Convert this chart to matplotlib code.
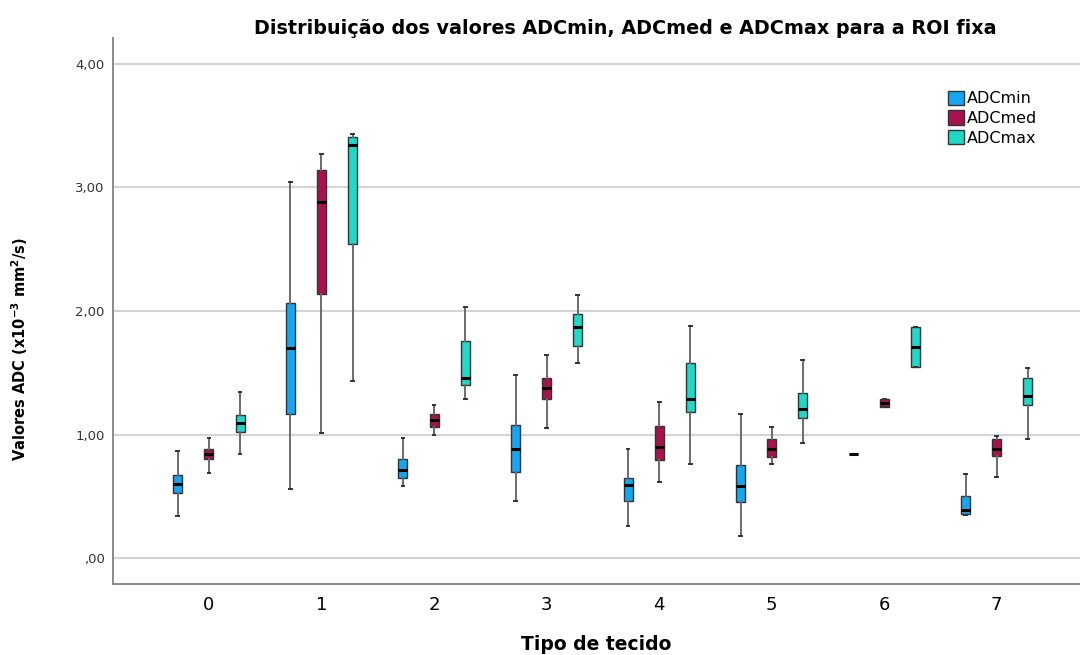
#!/usr/bin/env python3
"""Boxplots of ADCmin / ADCmed / ADCmax per tissue type (fixed ROI)."""

import matplotlib

matplotlib.use("Agg")
import matplotlib.pyplot as plt
import numpy as np
from matplotlib.patches import Patch

# Tissue type categories
categories = ["0", "1", "2", "3", "4", "5", "6", "7"]

# Five-number summaries: whisker low, Q1, median, Q3, whisker high
adcmin_lo = [0.34, 0.56, 0.58, 0.46, 0.26, 0.18, 0.84, 0.35]
adcmin_q1 = [0.53, 1.17, 0.65, 0.70, 0.46, 0.45, 0.84, 0.36]
adcmin_med = [0.60, 1.70, 0.71, 0.885, 0.59, 0.585, 0.84, 0.39]
adcmin_q3 = [0.67, 2.065, 0.80, 1.075, 0.65, 0.755, 0.84, 0.50]
adcmin_hi = [0.865, 3.045, 0.97, 1.48, 0.88, 1.17, 0.84, 0.68]

adcmed_lo = [0.69, 1.01, 1.00, 1.05, 0.615, 0.76, 1.225, 0.655]
adcmed_q1 = [0.80, 2.135, 1.06, 1.29, 0.79, 0.82, 1.225, 0.83]
adcmed_med = [0.84, 2.88, 1.12, 1.38, 0.895, 0.885, 1.255, 0.885]
adcmed_q3 = [0.88, 3.145, 1.17, 1.46, 1.07, 0.96, 1.285, 0.96]
adcmed_hi = [0.97, 3.27, 1.24, 1.645, 1.265, 1.06, 1.285, 0.99]

adcmax_lo = [0.845, 1.435, 1.285, 1.575, 0.76, 0.935, 1.55, 0.96]
adcmax_q1 = [1.02, 2.54, 1.40, 1.72, 1.18, 1.13, 1.55, 1.235]
adcmax_med = [1.09, 3.34, 1.46, 1.87, 1.285, 1.205, 1.71, 1.315]
adcmax_q3 = [1.16, 3.41, 1.755, 1.975, 1.575, 1.34, 1.87, 1.46]
adcmax_hi = [1.345, 3.435, 2.035, 2.13, 1.875, 1.60, 1.87, 1.54]

series_names = ["ADCmin", "ADCmed", "ADCmax"]
series_colors = ["#14A6F0", "#A8134F", "#1FD8C8"]

y_ticks = [0, 1, 2, 3, 4]
y_tick_labels = [",00", "1,00", "2,00", "3,00", "4,00"]


def build_stats(lo, q1, med, q3, hi):
    return [
        dict(whislo=a, q1=b, med=c, q3=d, whishi=e, fliers=[])
        for a, b, c, d, e in zip(lo, q1, med, q3, hi)
    ]


def main() -> None:
    fig = plt.figure(figsize=(10.8, 6.55), dpi=100)
    ax = fig.add_axes([0.1046, 0.1084, 0.8954, 0.8336])

    all_stats = [
        build_stats(adcmin_lo, adcmin_q1, adcmin_med, adcmin_q3, adcmin_hi),
        build_stats(adcmed_lo, adcmed_q1, adcmed_med, adcmed_q3, adcmed_hi),
        build_stats(adcmax_lo, adcmax_q1, adcmax_med, adcmax_q3, adcmax_hi),
    ]

    x = np.arange(len(categories))
    offset = 0.276
    width = 0.08
    for i, (stats, color) in enumerate(zip(all_stats, series_colors)):
        ax.bxp(
            stats,
            positions=x + (i - 1) * offset,
            widths=width,
            patch_artist=True,
            showfliers=False,
            boxprops=dict(facecolor=color, edgecolor="#333333", linewidth=1.0),
            medianprops=dict(color="black", linewidth=2.2),
            whiskerprops=dict(color="#6b6b6b", linewidth=1.4),
            capprops=dict(color="#333333", linewidth=1.4),
            capwidths=0.025,
            zorder=3,
        )

    ax.set_xlim(-0.853, 7.74)
    ax.set_ylim(-0.21, 4.21)
    ax.set_xticks(x)
    ax.set_xticklabels(categories, fontsize=13)
    ax.set_yticks(y_ticks)
    ax.set_yticklabels(y_tick_labels, fontsize=9.5, color="#333333")
    ax.tick_params(axis="both", length=0)
    ax.tick_params(axis="x", pad=9)
    ax.tick_params(axis="y", pad=6)

    ax.yaxis.grid(True, color="#d4d4d4", linewidth=1.5)
    ax.set_axisbelow(True)
    for side in ("top", "right"):
        ax.spines[side].set_visible(False)
    for side in ("left", "bottom"):
        ax.spines[side].set_color("#8a8a8a")
        ax.spines[side].set_linewidth(1.4)

    ax.set_xlabel("Tipo de tecido", fontsize=13.5, fontweight="bold", labelpad=15)
    ax.set_ylabel(
        r"Valores ADC (x10$^{\mathbf{-3}}$ mm$^{\mathbf{2}}$/s)",
        fontsize=10.5,
        fontweight="bold",
    )
    ax.yaxis.set_label_coords(-0.086, 0.43)
    fig.text(
        0.579,
        0.957,
        "Distribuição dos valores ADCmin, ADCmed e ADCmax para a ROI fixa",
        ha="center",
        va="center",
        fontsize=13.8,
        fontweight="bold",
    )

    handles = [
        Patch(facecolor=c, edgecolor="#333333", linewidth=1.0, label=n)
        for n, c in zip(series_names, series_colors)
    ]
    ax.legend(
        handles=handles,
        loc="upper left",
        bbox_to_anchor=(0.855, 0.918),
        frameon=False,
        fontsize=11.5,
        handlelength=1.0,
        handleheight=1.0,
        handletextpad=0.2,
        labelspacing=0.25,
        borderpad=0.0,
    )

    fig.savefig("out.png", dpi=100)
    plt.close(fig)


if __name__ == "__main__":
    main()
